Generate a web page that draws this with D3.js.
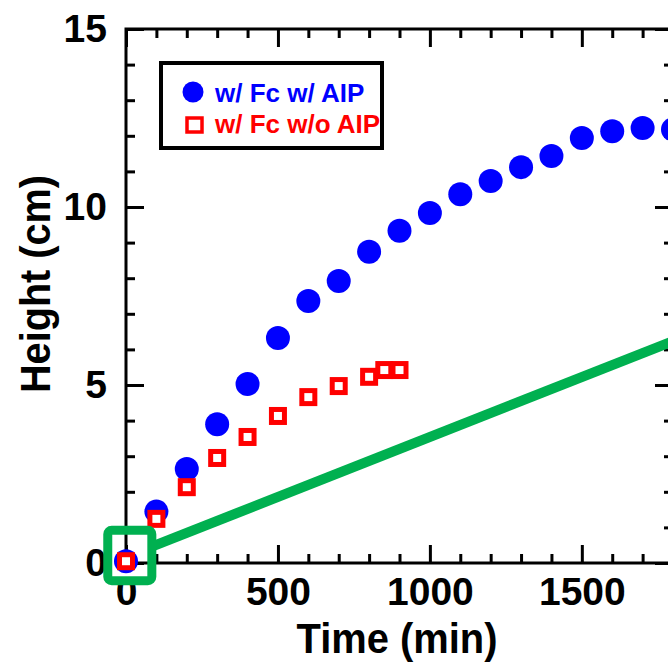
<!DOCTYPE html>
<html>
<head>
<meta charset="utf-8">
<script src="https://cdn.jsdelivr.net/npm/d3@7"></script>
<style>
  html, body { margin: 0; padding: 0; background: #fff; }
  svg { display: block; }
  text { font-family: "Liberation Sans", Arial, sans-serif; font-weight: bold; }
</style>
</head>
<body>
<svg id="chart" width="668" height="664"></svg>
<script>
// ---- data ----
const timeWithAIP   = [0, 100, 200, 300, 400, 500, 600, 700, 800, 900, 1000, 1100, 1200, 1300, 1400, 1500, 1600, 1700, 1800];
const heightWithAIP = [0.05, 1.45, 2.64, 3.9, 5.03, 6.32, 7.36, 7.92, 8.74, 9.33, 9.83, 10.36, 10.73, 11.12, 11.43, 11.94, 12.13, 12.22, 12.18];
const timeWithoutAIP   = [0, 100, 200, 300, 400, 500, 600, 700, 800, 850, 900];
const heightWithoutAIP = [0.05, 1.24, 2.13, 2.95, 3.54, 4.13, 4.66, 4.97, 5.23, 5.42, 5.42];
const guideTime   = [85, 1800];
const guideHeight = [0.46, 6.23];
const highlightTime = [-60, 85];
const highlightHeight = [-0.5, 0.92];
const xMajorTicks = [0, 500, 1000, 1500];
const yMajorTicks = [0, 5, 10, 15];
const seriesLabels = ["w/ Fc w/ AIP", "w/ Fc w/o AIP"];

// ---- layout ----
const svg = d3.select("#chart");
const x = d3.scaleLinear().domain([0, 1800]).range([126, 673]);
const y = d3.scaleLinear().domain([0, 15]).range([563, 29]);
const xMinor = d3.range(0, 1801, 100).filter(v => v % 500 !== 0);
const yMinor = d3.range(0, 16, 1).filter(v => v % 5 !== 0);

function styleAxis(g) {
  g.selectAll(".domain").remove();
  g.selectAll(".tick line").attr("stroke", "#000").attr("stroke-width", 3);
  g.selectAll("text").attr("fill", "#000").style("font-size", "39px").style("font-weight", "bold");
}

// bottom axis
svg.append("g").attr("transform", `translate(0,${y(0)})`)
  .call(d3.axisBottom(x).tickValues(xMajorTicks).tickSize(-18).tickPadding(14).tickFormat(d3.format("d")))
  .call(styleAxis);
svg.append("g").attr("transform", `translate(0,${y(0)})`)
  .call(d3.axisBottom(x).tickValues(xMinor).tickSize(-9).tickFormat(""))
  .call(styleAxis);
// top axis
svg.append("g").attr("transform", `translate(0,${y(15)})`)
  .call(d3.axisTop(x).tickValues(xMajorTicks.concat([1800])).tickSize(-18).tickFormat(""))
  .call(styleAxis);
svg.append("g").attr("transform", `translate(0,${y(15)})`)
  .call(d3.axisTop(x).tickValues(xMinor).tickSize(-9).tickFormat(""))
  .call(styleAxis);
// left axis
svg.append("g").attr("transform", `translate(${x(0)},0)`)
  .call(d3.axisLeft(y).tickValues(yMajorTicks).tickSize(-18).tickPadding(19).tickFormat(d3.format("d")))
  .call(styleAxis);
svg.append("g").attr("transform", `translate(${x(0)},0)`)
  .call(d3.axisLeft(y).tickValues(yMinor).tickSize(-9).tickFormat(""))
  .call(styleAxis);
// right axis
svg.append("g").attr("transform", `translate(${x(1800)},0)`)
  .call(d3.axisRight(y).tickValues(yMajorTicks).tickSize(-18).tickFormat(""))
  .call(styleAxis);
svg.append("g").attr("transform", `translate(${x(1800)},0)`)
  .call(d3.axisRight(y).tickValues(yMinor).tickSize(-9).tickFormat(""))
  .call(styleAxis);

// frame
svg.append("rect")
  .attr("x", x(0)).attr("y", y(15))
  .attr("width", x(1800) - x(0)).attr("height", y(0) - y(15))
  .attr("fill", "none").attr("stroke", "#000").attr("stroke-width", 3);

// axis titles
svg.append("text").attr("x", 397).attr("y", 653).attr("text-anchor", "middle")
  .style("font-size", "42px").attr("textLength", 201).attr("lengthAdjust", "spacingAndGlyphs")
  .text("Time (min)");
svg.append("text").attr("transform", "translate(50,284) rotate(-90)").attr("text-anchor", "middle")
  .style("font-size", "43px").attr("textLength", 218).attr("lengthAdjust", "spacingAndGlyphs")
  .text("Height (cm)");

// green guide line
svg.append("line")
  .attr("x1", x(guideTime[0])).attr("y1", y(guideHeight[0]))
  .attr("x2", x(guideTime[1])).attr("y2", y(guideHeight[1]))
  .attr("stroke", "#00b050").attr("stroke-width", 10);

// series: with AIP (blue circles)
svg.append("g").selectAll("circle")
  .data(timeWithAIP.map((t, i) => [t, heightWithAIP[i]]))
  .join("circle")
  .attr("cx", d => x(d[0])).attr("cy", d => y(d[1])).attr("r", 12)
  .attr("fill", "#0000ff");

// series: without AIP (red squares)
const sq = 13;
svg.append("g").selectAll("rect")
  .data(timeWithoutAIP.map((t, i) => [t, heightWithoutAIP[i]]))
  .join("rect")
  .attr("x", d => x(d[0]) - sq / 2).attr("y", d => y(d[1]) - sq / 2)
  .attr("width", sq).attr("height", sq)
  .attr("fill", "#fff").attr("stroke", "#ff0000").attr("stroke-width", 5);

// highlight box
svg.append("rect")
  .attr("x", x(highlightTime[0])).attr("y", y(highlightHeight[1]))
  .attr("width", x(highlightTime[1]) - x(highlightTime[0]))
  .attr("height", y(highlightHeight[0]) - y(highlightHeight[1]))
  .attr("rx", 4).attr("fill", "none").attr("stroke", "#00b050").attr("stroke-width", 9);

// legend
const lg = svg.append("g");
lg.append("rect").attr("x", 161).attr("y", 63).attr("width", 221).attr("height", 85)
  .attr("fill", "#fff").attr("stroke", "#000").attr("stroke-width", 4);
lg.append("circle").attr("cx", 193).attr("cy", 92).attr("r", 10.5).attr("fill", "#0000ff");
lg.append("text").attr("x", 215).attr("y", 102).attr("fill", "#0000ff").style("font-size", "26px").text(seriesLabels[0]);
lg.append("rect").attr("x", 187).attr("y", 118).attr("width", 15).attr("height", 14)
  .attr("fill", "#fff").attr("stroke", "#ff0000").attr("stroke-width", 3.5);
lg.append("text").attr("x", 215).attr("y", 133).attr("fill", "#ff0000").style("font-size", "26px").text(seriesLabels[1]);
</script>
</body>
</html>
